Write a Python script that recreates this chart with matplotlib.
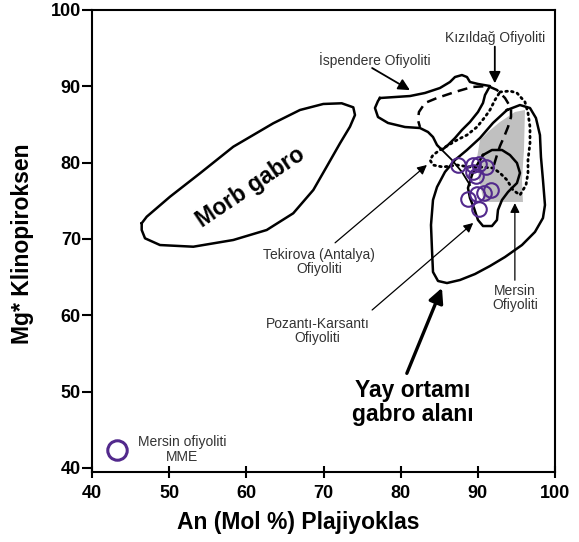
import matplotlib
matplotlib.use("Agg")
import matplotlib.pyplot as plt
import numpy as np

plt.rcParams['font.family'] = ['Liberation Sans', 'DejaVu Sans']

# Morb gabro field
morb_x = [46.44, 47.09, 50.11, 54.0, 58.31, 63.49, 66.95, 69.97, 72.36, 73.86, 74.08, 73.43,
          72.14, 70.41, 68.68, 66.08, 62.64, 58.31, 53.13, 48.81, 46.87, 46.44]
morb_y = [72.06, 72.92, 75.54, 78.61, 82.09, 85.16, 86.90, 87.69, 87.78, 87.25, 86.24, 84.71,
          82.54, 79.47, 76.42, 73.37, 71.18, 69.87, 68.99, 69.21, 70.09, 71.18]

# Ispendere ophiolite (solid)
isp_x = [77.32, 79.26, 81.21, 83.15, 85.09, 86.39, 87.04, 87.94, 88.59, 88.98, 90.02, 91.57,
         90.93, 90.67, 90.02, 88.98, 87.94, 87.04, 86.13, 85.35, 84.71, 84.19, 83.54, 82.50,
         80.56, 78.36, 77.06, 76.67, 77.06]
isp_y = [88.47, 88.60, 88.73, 89.13, 89.78, 90.57, 91.22, 91.48, 91.22, 90.57, 90.31, 90.04,
         88.86, 87.82, 86.64, 85.33, 84.28, 83.23, 82.31, 81.66, 82.31, 83.36, 84.02, 84.54,
         84.67, 85.20, 85.98, 87.16, 88.08]

# Kizildag ophiolite (dashed) + its solid lower edge
kiz_x = [92.09, 92.48, 92.87, 93.39, 93.91, 94.30, 94.30, 93.52, 92.48, 91.31, 89.24, 87.04,
         84.71, 83.15, 82.37, 82.24, 82.50]
kiz_y = [79.69, 81.00, 82.18, 83.36, 84.67, 85.98, 87.16, 88.47, 89.52, 90.04, 89.91, 89.26,
         88.47, 87.82, 86.64, 85.59, 84.67]
kiz_edge_x = [85.35, 86.65, 87.94, 88.98]
kiz_edge_y = [81.66, 80.35, 78.78, 77.07]

# Tekirova (Antalya) ophiolite (dotted)
tek_x = [92.87, 94.16, 95.07, 96.11, 96.50, 96.76, 96.76, 96.50, 96.50, 96.24, 95.46, 94.55,
         93.78, 92.87, 91.96, 90.28, 88.98, 87.30, 85.48, 84.19, 83.80, 84.19, 85.09, 86.0,
         87.30, 88.59, 89.89, 90.93, 91.57, 92.22, 92.87]
tek_y = [89.26, 89.39, 89.13, 87.95, 86.51, 84.67, 82.58, 80.35, 78.65, 77.07, 75.76, 76.42,
         77.73, 78.65, 79.30, 79.43, 79.43, 79.69, 79.43, 79.69, 80.35, 81.00, 81.66, 82.18,
         82.97, 83.62, 84.67, 85.98, 86.90, 88.21, 89.26]

# Mersin ophiolite (grey field)
mer_x = [90.28, 89.89, 90.15, 90.80, 95.85, 95.72, 95.98, 96.11, 94.81, 92.87, 91.31]
mer_y = [82.97, 80.61, 77.73, 74.85, 74.85, 77.73, 81.66, 86.90, 86.64, 85.33, 84.02]

# Pozanti-Karsanti ophiolite (solid)
poz_x = [90.67, 91.83, 93.13, 94.16, 95.07, 95.46, 95.07, 93.91, 93.13, 92.61, 92.48, 91.83,
         90.67, 90.02, 89.50, 88.98, 88.72, 89.24, 89.89, 90.67]
poz_y = [81.0, 81.66, 81.66, 81.0, 79.96, 78.65, 77.33, 76.16, 75.11, 73.80, 72.49, 71.70,
         71.70, 72.49, 74.06, 75.37, 76.68, 78.38, 79.69, 81.0]

# Yay ortami gabro alani (arc gabbro field)
yay_x = [93.78, 95.46, 96.76, 97.53, 98.05, 98.18, 98.44, 98.70, 98.44, 97.40, 95.72, 93.52,
         91.57, 89.63, 87.69, 86.0, 84.84, 84.19, 84.06, 83.93, 84.19, 84.71, 85.74, 87.04,
         88.59, 90.28, 91.96, 93.78]
yay_y = [86.90, 87.55, 87.16, 85.85, 83.62, 80.74, 77.73, 74.45, 72.75, 70.92, 69.21, 67.64,
         66.46, 65.41, 64.63, 64.23, 64.50, 65.68, 68.56, 71.83, 75.11, 76.81, 78.78, 80.35,
         81.66, 83.23, 85.20, 86.90]

# Mersin ophiolite MME samples
an = [87.4, 89.4, 90.15, 91.06, 89.4, 89.8, 88.7, 89.9, 90.8, 91.7, 90.15]
mg = [79.7, 79.7, 79.8, 79.4, 78.8, 78.3, 75.2, 75.9, 76.0, 76.4, 73.9]

# labels: (text, text position, arrow tail, arrow tip)
labels = [
    ('İspendere Ofiyoliti', (76.7, 93.45), (76.3, 92.4), (81.2, 89.5)),
    ('Kızıldağ Ofiyoliti', (92.2, 96.3), (92.2, 95.2), (92.2, 90.4)),
    ('Tekirova (Antalya)\nOfiyoliti', (69.4, 67.0), (71.5, 69.5), (83.4, 79.7)),
    ('Pozantı-Karsantı\nOfiyoliti', (69.2, 57.95), (76.3, 60.7), (89.4, 72.1)),
    ('Mersin\nOfiyoliti', (94.8, 62.3), (94.8, 64.6), (94.8, 74.7)),
]

purple = '#52298c'
lw = 1.8

fig = plt.figure(figsize=(5.79, 5.42), dpi=100)
ax = fig.add_axes([92 / 579, 1 - 472 / 542, 463 / 579, 462 / 542])

ax.fill(mer_x, mer_y, color='#c0c0c0', lw=0, zorder=1)
ax.plot(morb_x + morb_x[:1], morb_y + morb_y[:1], color='k', lw=lw, zorder=2)
ax.plot(yay_x, yay_y, color='k', lw=lw, zorder=2)
ax.plot(isp_x + isp_x[:1], isp_y + isp_y[:1], color='k', lw=lw, zorder=2)
ax.plot(poz_x, poz_y, color='k', lw=lw, zorder=2)
ax.plot(kiz_x, kiz_y, color='k', lw=lw, ls=(0, (4, 2.5)), zorder=2)
ax.plot(kiz_edge_x, kiz_edge_y, color='k', lw=1.3, zorder=2)
ax.plot(tek_x, tek_y, color='k', lw=2.0, ls=(0, (0.6, 1.5)), dash_capstyle='round', zorder=2)

ax.plot(an, mg, 'o', mfc='none', mec=purple, mew=1.5, ms=10.5, zorder=4)
ax.plot([43.3], [42.4], 'o', mfc='none', mec=purple, mew=2.2, ms=14, zorder=4)

ax.text(60.5, 76.8, 'Morb gabro', rotation=34, fontsize=16.5, fontweight='bold',
        ha='center', va='center', rotation_mode='anchor')

small = dict(fontsize=10, color='#333333', ha='center', va='center', linespacing=1.05)
for i, (txt, pos, tail, tip) in enumerate(labels):
    ax.text(pos[0], pos[1], txt, **small)
    thick = i < 2
    ax.annotate('', xy=tip, xytext=tail,
                arrowprops=dict(arrowstyle='-|>', color='k', lw=1.3 if thick else 0.9,
                                mutation_scale=17 if thick else 14, shrinkA=0, shrinkB=0))

ax.text(81.6, 48.6, 'Yay ortamı\ngabro alanı', fontsize=16.5, fontweight='bold',
        ha='center', va='center', linespacing=1.05)
ax.annotate('', xy=(85.35, 63.6), xytext=(80.8, 52.4),
            arrowprops=dict(arrowstyle='-|>', color='k', lw=2.4, mutation_scale=22,
                            shrinkA=0, shrinkB=0))
ax.text(51.7, 42.4, 'Mersin ofiyoliti\nMME', **small)

ax.set_xlim(40, 100)
ax.set_ylim(40 - 4 / 7.633, 100)
ax.set_xticks(np.arange(40, 101, 10))
ax.set_yticks(np.arange(40, 101, 10))
ax.tick_params(axis='y', direction='out', length=7, width=1.5, labelsize=13, pad=1)
ax.tick_params(axis='x', direction='inout', length=8, width=1.5, labelsize=13, pad=5)
for lab in ax.get_xticklabels() + ax.get_yticklabels():
    lab.set_fontweight('bold')
for s in ax.spines.values():
    s.set_linewidth(1.5)
fig.text(298 / 579, 1 - 522 / 542, 'An (Mol %) Plajiyoklas', fontsize=16.5,
         fontweight='bold', ha='center', va='center')
fig.text(23 / 579, 1 - 244 / 542, 'Mg* Klinopiroksen', fontsize=16.5,
         fontweight='bold', ha='center', va='center', rotation=90)

fig.savefig('out.png', dpi=100)
